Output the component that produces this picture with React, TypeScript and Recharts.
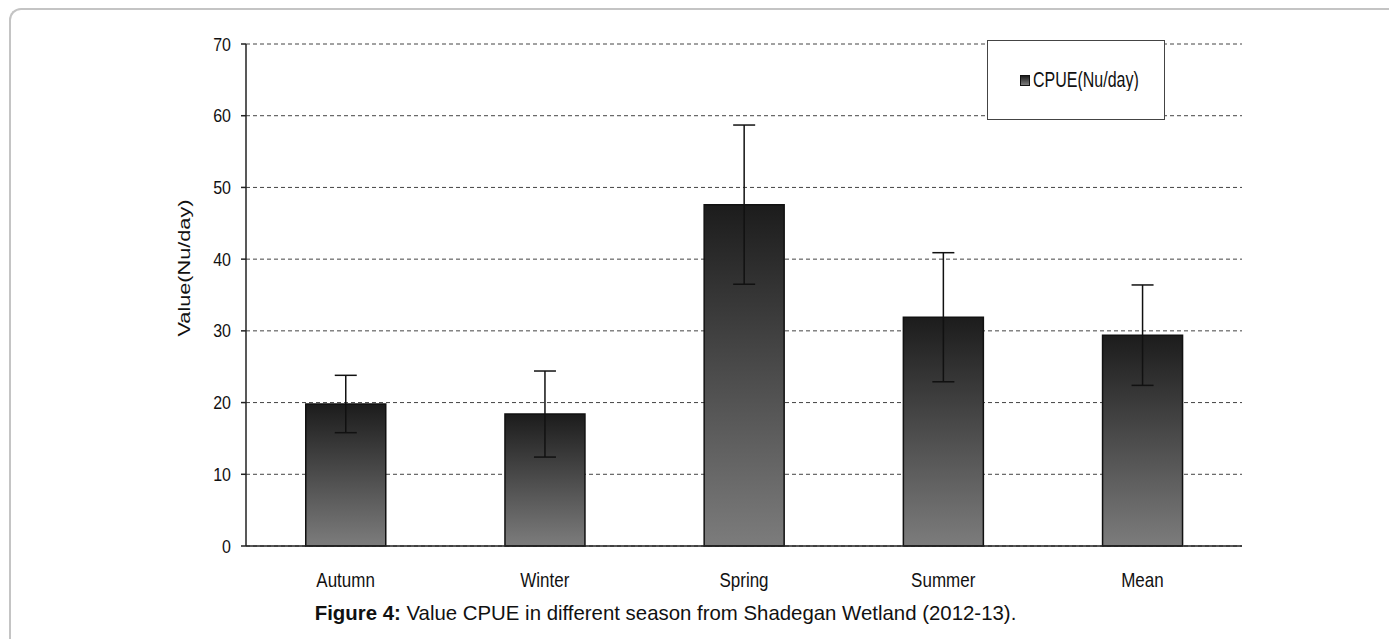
import React from 'react';
import { BarChart, Bar, XAxis, YAxis, CartesianGrid, ErrorBar, ReferenceLine } from 'recharts';

const seasons = ['Autumn', 'Winter', 'Spring', 'Summer', 'Mean'];
const cpueValues = [19.8, 18.4, 47.6, 31.9, 29.4];
const cpueErrors = [4.0, 6.0, 11.1, 9.0, 7.0];
const yTicks = [0, 10, 20, 30, 40, 50, 60, 70];
const edgeTicks = [0, 1, 2, 3, 4, 5];
const seriesName = 'CPUE(Nu/day)';

const data = seasons.map((name, i) => ({
  name,
  cpue: cpueValues[i],
  err: cpueErrors[i],
}));

const font = "'Liberation Sans', Arial, sans-serif";

// the original text looks a bit condensed / tall, so stretch it vertically
const XTick = (props: any) => {
  const { x, y, payload } = props;
  return (
    <g transform={`translate(${x},${y}) scale(1,1.18)`}>
      <text x={0} y={11} textAnchor="middle" fontFamily={font} fontSize={17} fill="#111">
        {payload.value}
      </text>
    </g>
  );
};

const YTick = (props: any) => {
  const { x, y, payload } = props;
  return (
    <g transform={`translate(${x},${y}) scale(1,1.2)`}>
      <text x={0} y={0} textAnchor="end" dominantBaseline="central" fontFamily={font} fontSize={16} fill="#111">
        {payload.value}
      </text>
    </g>
  );
};

const YLabel = (props: any) => {
  const { viewBox } = props;
  const cx = viewBox.x - 2;
  const cy = viewBox.y + viewBox.height / 2 - 27;
  return (
    <text
      x={cx}
      y={cy}
      transform={`rotate(-90, ${cx}, ${cy})`}
      textAnchor="middle"
      dominantBaseline="central"
      fontFamily={font}
      fontSize={16}
      fill="#111"
      textLength={137}
      lengthAdjust="spacingAndGlyphs"
    >
      Value(Nu/day)
    </text>
  );
};

const LegendBox = () => (
  <div
    style={{
      position: 'absolute',
      left: 979,
      top: 32,
      width: 178,
      height: 80,
      boxSizing: 'border-box',
      border: '1px solid #444',
      background: '#fff',
      display: 'flex',
      alignItems: 'center',
      paddingLeft: 32,
      fontFamily: font,
      fontSize: 16,
      color: '#111',
    }}
  >
    <span
      style={{
        display: 'inline-block',
        width: 8,
        height: 9,
        border: '1px solid #111',
        background: 'linear-gradient(#1c1c1c, #7c7c7c)',
        marginRight: 3,
      }}
    />
    <span style={{ display: 'inline-block', transform: 'scaleY(1.35)' }}>{seriesName}</span>
  </div>
);

const App: React.FC = () => {
  return (
    <div style={{ position: 'relative', width: 1389, height: 631, overflow: 'hidden' }}>
      <div
        style={{
          position: 'absolute',
          left: 1,
          top: 0,
          width: 2000,
          height: 1000,
          borderTop: '2px solid #c4c4c4',
          borderLeft: '2px solid #c4c4c4',
          borderTopLeftRadius: 12,
        }}
      />
      <div style={{ position: 'absolute', left: 0, top: 0 }}>
        <BarChart
          width={1389}
          height={600}
          data={data}
          margin={{ top: 36, right: 155, left: 178, bottom: 22 }}
          barCategoryGap="30%"
        >
          <defs>
            <linearGradient id="barFill" x1="0" y1="0" x2="0" y2="1">
              <stop offset="0%" stopColor="#1c1c1c" />
              <stop offset="100%" stopColor="#7c7c7c" />
            </linearGradient>
          </defs>
          <CartesianGrid vertical={false} stroke="#444" strokeDasharray="4 3" />
          <XAxis
            xAxisId="edges"
            type="number"
            domain={[0, 5]}
            ticks={edgeTicks}
            tick={false}
            tickSize={7}
            axisLine={false}
            tickLine={{ stroke: '#333', strokeWidth: 1.5 }}
            height={0}
          />
          <XAxis
            dataKey="name"
            tickLine={false}
            axisLine={{ stroke: '#222', strokeWidth: 1.5 }}
            tick={<XTick />}
            tickSize={6}
            tickMargin={22}
            height={40}
          />
          <YAxis
            domain={[0, 70]}
            ticks={yTicks}
            width={60}
            tickSize={5}
            tickMargin={10}
            axisLine={{ stroke: '#222', strokeWidth: 1.5 }}
            tickLine={{ stroke: '#222', strokeWidth: 1.5 }}
            tick={<YTick />}
            label={<YLabel />}
          />
          <ReferenceLine xAxisId="edges" x={5} stroke="#999" strokeWidth={1.5} />
          <Bar
            dataKey="cpue"
            name={seriesName}
            fill="url(#barFill)"
            stroke="#111"
            strokeWidth={1.5}
            isAnimationActive={false}
          >
            <ErrorBar dataKey="err" width={11} stroke="#111" strokeWidth={1.5} />
          </Bar>
        </BarChart>
      </div>
      <LegendBox />
      <div
        style={{
          position: 'absolute',
          left: 0,
          width: 1315,
          top: 594,
          textAlign: 'center',
          fontFamily: font,
          fontSize: 20.4,
          color: '#111',
        }}
      >
        <b>Figure 4:</b> Value CPUE in different season from Shadegan Wetland (2012-13).
      </div>
    </div>
  );
};

export default App;
